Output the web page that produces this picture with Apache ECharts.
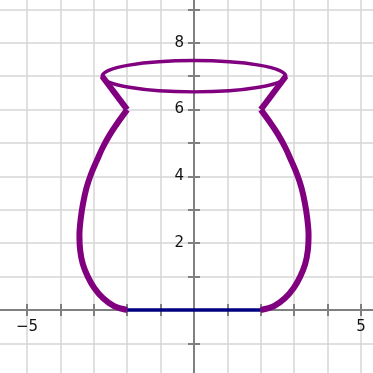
<!DOCTYPE html>
<html>
<head>
<meta charset="utf-8">
<script src="https://cdn.jsdelivr.net/npm/echarts@6/dist/echarts.min.js"></script>
<style>
	html, body { margin: 0; padding: 0; background: #fff; }
	#vase { width: 373px; height: 373px; }
</style>
</head>
<body>
<div id="vase"></div>
<script>
// 瓶身右侧曲线 (从底部到瓶颈)
var rightX = [2, 2.4, 2.72, 2.98, 3.18, 3.33, 3.41, 3.43, 3.39, 3.32, 3.22, 3.09, 2.92, 2.74, 2.52, 2.29, 2.0];
var rightY = [0, 0.12, 0.35, 0.65, 1, 1.38, 1.8, 2.25, 2.75, 3.2, 3.65, 4.05, 4.45, 4.85, 5.25, 5.6, 6];
// 瓶身左侧曲线
var leftX = [-2, -2.4, -2.72, -2.98, -3.18, -3.33, -3.41, -3.43, -3.39, -3.32, -3.22, -3.09, -2.92, -2.74, -2.52, -2.29, -2.0];
var leftY = [0, 0.12, 0.35, 0.65, 1, 1.38, 1.8, 2.25, 2.75, 3.2, 3.65, 4.05, 4.45, 4.85, 5.25, 5.6, 6];
// 瓶颈
var neckRight = [[2, 6], [2.75, 7]];
var neckLeft = [[-2, 6], [-2.75, 7]];
// 瓶口椭圆: 中心x, 中心y, 半轴a, 半轴b
var rim = [0, 7, 2.75, 0.47];
// 瓶底
var base = [[-2, 0], [2, 0]];
// 刻度标签
var xTickLabels = [-5, 5];
var yTickLabels = [2, 4, 6, 8];

function zip(xs, ys) {
	var out = [];
	for (var i = 0; i < xs.length; i++) {
		out.push([xs[i], ys[i]]);
	}
	return out;
}

var myChart = echarts.init(document.getElementById('vase'));

var axisColor = '#808080';
var gridColor = '#d6d6d6';
var purple = '#800080';

// 单位长度约 33.4px, 坐标原点在 (194, 310)
var unit = 33.4;
var gLeft = 194 - 6 * unit;
var gTop = 310 - 10 * unit;
var gW = 12 * unit;
var gH = 12 * unit;

var option = {
	animation: false,
	grid: {
		left: gLeft,
		top: gTop,
		width: gW,
		height: gH,
		containLabel: false,
		outerBoundsMode: 'none'
	},
	xAxis: [
		{
			type: 'value',
			min: -6,
			max: 6,
			interval: 1,
			position: 'bottom',
			offset: -(gTop + gH - 310),
			axisLine: {onZero: false, lineStyle: {color: axisColor, width: 2}},
			axisTick: {show: true, length: 6, lineStyle: {color: axisColor, width: 2}},
			axisLabel: {
				margin: 10,
				color: '#111',
				fontFamily: 'DejaVu Sans',
				fontSize: 15,
				formatter: function (value) {
					if (xTickLabels.indexOf(value) < 0) return '';
					return value < 0 ? '\u2212' + Math.abs(value) : String(value);
				}
			},
			splitLine: {show: true, lineStyle: {color: gridColor, width: 1.5}}
		},
		{
			type: 'value',
			min: -6,
			max: 6,
			interval: 1,
			position: 'top',
			offset: -(310 - gTop),
			axisLine: {show: false, onZero: false},
			axisTick: {show: true, length: 6, lineStyle: {color: axisColor, width: 2}},
			axisLabel: {show: false},
			splitLine: {show: false}
		}
	],
	yAxis: [
		{
			type: 'value',
			min: -2,
			max: 10,
			interval: 1,
			position: 'left',
			offset: -(194 - gLeft),
			axisLine: {onZero: false, lineStyle: {color: axisColor, width: 2}},
			axisTick: {show: true, length: 6, lineStyle: {color: axisColor, width: 2}},
			axisLabel: {
				margin: 10,
				color: '#111',
				fontFamily: 'DejaVu Sans',
				fontSize: 15,
				formatter: function (value) {
					return yTickLabels.indexOf(value) < 0 ? '' : String(value);
				}
			},
			splitLine: {show: true, lineStyle: {color: gridColor, width: 1.5}}
		},
		{
			type: 'value',
			min: -2,
			max: 10,
			interval: 1,
			position: 'right',
			offset: -(gLeft + gW - 194),
			axisLine: {show: false, onZero: false},
			axisTick: {show: true, length: 6, lineStyle: {color: axisColor, width: 2}},
			axisLabel: {show: false},
			splitLine: {show: false}
		}
	],
	series: [
		{
			name: 'base',
			type: 'line',
			data: base,
			symbol: 'none',
			lineStyle: {color: '#000080', width: 3.5},
			z: 3
		},
		{
			name: 'right',
			type: 'line',
			data: zip(rightX, rightY),
			smooth: 0.35,
			symbol: 'none',
			lineStyle: {color: purple, width: 6},
			z: 4
		},
		{
			name: 'left',
			type: 'line',
			data: zip(leftX, leftY),
			smooth: 0.35,
			symbol: 'none',
			lineStyle: {color: purple, width: 6},
			z: 4
		},
		{
			name: 'neckR',
			type: 'line',
			data: neckRight,
			symbol: 'none',
			lineStyle: {color: purple, width: 6},
			z: 4
		},
		{
			name: 'neckL',
			type: 'line',
			data: neckLeft,
			symbol: 'none',
			lineStyle: {color: purple, width: 6},
			z: 4
		},
		{
			name: 'rim',
			type: 'custom',
			data: [rim],
			z: 5,
			renderItem: function (params, api) {
				var c = api.coord([api.value(0), api.value(1)]);
				var s = api.size([api.value(2), api.value(3)]);
				return {
					type: 'ellipse',
					shape: {cx: c[0], cy: c[1], rx: s[0], ry: s[1]},
					style: {fill: 'none', stroke: purple, lineWidth: 3.4}
				};
			}
		}
	]
};

myChart.setOption(option);
</script>
</body>
</html>
